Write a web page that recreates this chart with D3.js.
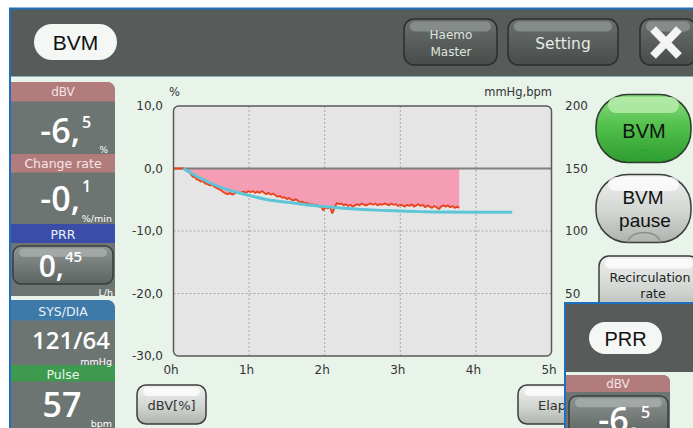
<!DOCTYPE html>
<html>
  <head>
    <title>BVM</title>
    <script src="https://cdn.jsdelivr.net/npm/d3@7"></script>
    <style>
      body { margin: 0; background: #ffffff; }
      text { font-family: "DejaVu Sans", sans-serif; }
    </style>
  </head>
  <body>
    <svg width="693" height="428" id="mainsvg"></svg>
    <script>
        // chart data
        const hourTicks = [0, 1, 2, 3, 4, 5];
        const pctTicks = [10, 0, -10, -20, -30];
        const rightTicks = [50, 100, 150, 200];

        // dBV measured [hours, %]
        const dbvPoints = [
            [0.00, 0.0], [0.13, 0.0], [0.17, -0.3], [0.20, -0.5], [0.23, -0.9], [0.26, -1.4],
            [0.28, -1.2], [0.30, -1.7], [0.33, -1.8], [0.36, -2.1], [0.39, -2.0], [0.42, -2.4],
            [0.45, -2.5], [0.48, -2.7], [0.51, -2.6], [0.54, -2.9], [0.57, -3.1], [0.60, -3.3],
            [0.63, -3.5], [0.66, -3.8], [0.69, -4.0], [0.72, -4.1], [0.75, -3.9], [0.78, -4.2],
            [0.81, -4.0], [0.84, -3.8], [0.87, -4.0], [0.90, -3.8], [0.93, -3.7], [0.96, -3.9],
            [0.99, -3.6], [1.02, -3.8], [1.05, -3.6], [1.08, -3.9], [1.11, -3.7], [1.14, -3.9],
            [1.17, -3.6], [1.20, -3.9], [1.23, -4.1], [1.26, -3.9], [1.29, -4.2], [1.32, -4.0],
            [1.35, -4.3], [1.38, -4.5], [1.41, -4.4], [1.44, -4.7], [1.47, -4.6], [1.50, -4.9],
            [1.53, -4.7], [1.56, -5.0], [1.59, -5.1], [1.62, -4.9], [1.65, -5.2], [1.68, -5.4],
            [1.71, -5.3], [1.74, -5.6], [1.77, -5.5], [1.80, -5.8], [1.83, -5.7], [1.86, -5.9],
            [1.89, -5.8], [1.92, -6.1], [1.95, -6.0], [1.98, -6.7], [2.01, -6.2], [2.04, -6.4],
            [2.07, -6.1], [2.10, -7.2], [2.13, -6.3], [2.16, -5.5], [2.19, -5.7], [2.22, -5.6],
            [2.25, -5.9], [2.28, -5.7], [2.31, -6.0], [2.34, -5.8], [2.37, -6.1], [2.40, -5.9],
            [2.43, -5.7], [2.46, -5.9], [2.49, -5.6], [2.52, -5.8], [2.55, -5.9], [2.58, -5.7],
            [2.61, -5.6], [2.64, -5.8], [2.67, -5.6], [2.70, -5.9], [2.73, -5.7], [2.76, -5.8],
            [2.79, -5.6], [2.82, -5.7], [2.85, -5.9], [2.88, -5.6], [2.91, -5.8], [2.94, -5.7],
            [2.97, -6.0], [3.00, -5.8], [3.03, -5.9], [3.06, -6.1], [3.09, -5.8], [3.12, -6.0],
            [3.15, -5.7], [3.18, -6.1], [3.21, -5.9], [3.24, -5.7], [3.27, -6.0], [3.30, -5.8],
            [3.33, -6.2], [3.36, -5.9], [3.39, -6.1], [3.42, -6.3], [3.45, -6.0], [3.48, -6.2],
            [3.51, -6.5], [3.54, -6.1], [3.57, -5.9], [3.60, -6.1], [3.63, -5.9], [3.66, -6.2],
            [3.69, -6.0], [3.72, -6.3], [3.75, -6.1], [3.78, -6.3]
        ];

        // target / fitted curve [hours, %]
        const targetPoints = [
            [0.13, 0.0], [0.20, -0.5], [0.30, -1.2], [0.40, -1.8], [0.50, -2.4], [0.60, -2.9],
            [0.75, -3.5], [0.90, -4.0], [1.00, -4.3], [1.25, -5.0], [1.50, -5.4], [1.75, -5.8],
            [2.00, -6.1], [2.25, -6.35], [2.50, -6.55], [2.75, -6.7], [3.00, -6.8], [3.25, -6.9],
            [3.50, -6.95], [4.00, -7.0], [4.48, -7.0]
        ];

        const svg = d3.select('#mainsvg');
        const defs = svg.append('defs');

        const addGrad = function(id, stops){
            const g = defs.append('linearGradient').attr('id', id)
            .attr('x1', 0).attr('x2', 0).attr('y1', 0).attr('y2', 1);
            stops.forEach(s => g.append('stop').attr('offset', s[0]).attr('stop-color', s[1]));
        };
        addGrad('gDark', [['0%', '#6b716f'], ['100%', '#474c4a']]);
        addGrad('gLight', [['0%', '#eef1ee'], ['55%', '#d2d6d2'], ['100%', '#aeb3ae']]);
        addGrad('gGreen', [['0%', '#8fdc84'], ['45%', '#52c14c'], ['100%', '#2f9c30']]);
        addGrad('gPanelBtn', [['0%', '#8e9492'], ['100%', '#5d6361']]);

        // frame: white margin, blue border, dark header, mint body
        svg.append('rect').attr('width', 693).attr('height', 428).attr('fill', '#ffffff');
        svg.append('rect').attr('x', 9).attr('y', 7.5).attr('width', 684).attr('height', 421).attr('fill', '#1f6fc0');
        svg.append('rect').attr('x', 11).attr('y', 9.5).attr('width', 682).attr('height', 67).attr('fill', '#575c5a');
        svg.append('rect').attr('x', 11).attr('y', 76.5).attr('width', 682).attr('height', 352).attr('fill', '#e8f3ea');

        // rounded rect with only top-right corner rounded
        const panelPath = function(x, y, w, h, r){
            return `M${x},${y} H${x + w - r} Q${x + w},${y} ${x + w},${y + r} V${y + h} H${x} Z`;
        };

        const button = function(x, y, w, h, rx, kind){
            const g = svg.append('g');
            const fill = kind === 'dark' ? 'url(#gDark)' : kind === 'green' ? 'url(#gGreen)'
                : kind === 'panel' ? 'url(#gPanelBtn)' : 'url(#gLight)';
            g.append('rect').attr('x', x).attr('y', y).attr('width', w).attr('height', h)
            .attr('rx', rx).attr('fill', fill)
            .attr('stroke', kind === 'dark' ? '#2b2f2d' : '#3a3e3c').attr('stroke-width', 1.5);
            const hl = kind === 'dark' ? '#8c928f' : kind === 'green' ? '#b6ecab' : kind === 'panel' ? '#a7adab' : '#ffffff';
            g.append('rect').attr('x', x + 6).attr('y', y + 2.5).attr('width', w - 12).attr('height', Math.min(10, h * 0.22))
            .attr('rx', 5).attr('fill', hl).attr('opacity', kind === 'light' ? 0.75 : 0.85);
            return g;
        };

        const label = function(x, y, t, size, color, opts){
            opts = opts || {};
            return svg.append('text').attr('x', x).attr('y', y).text(t)
            .attr('font-size', size).attr('fill', color)
            .attr('font-weight', opts.weight || 'normal')
            .attr('text-anchor', opts.anchor || 'middle')
            .attr('dominant-baseline', opts.baseline || 'central')
            .style('font-family', opts.font || '"DejaVu Sans", sans-serif');
        };
        // big white readouts
        const big = {baseline: 'alphabetic', font: '"Open Sans", sans-serif', weight: 600};
        const bigEnd = Object.assign({anchor: 'end'}, big);
        const bigStart = Object.assign({anchor: 'start'}, big);

        // ---------- header ----------
        svg.append('rect').attr('x', 34).attr('y', 24).attr('width', 83).attr('height', 36).attr('rx', 18).attr('fill', '#f4f7f4');
        label(75.5, 42.5, 'BVM', 21, '#111', {font: '"Liberation Sans", sans-serif'});

        button(404, 19, 93, 46, 10, 'dark');
        label(451, 35, 'Haemo', 12, '#dfe3df');
        label(451, 52, 'Master', 12, '#dfe3df');
        button(508, 19, 110, 46, 10, 'dark');
        label(563, 44, 'Setting', 15.5, '#e6eae6');
        button(640, 19, 56, 46, 10, 'dark');
        svg.append('path').attr('d', 'M653,29 L679,56 M679,29 L653,56')
        .attr('stroke', '#f4f4f4').attr('stroke-width', 8).attr('fill', 'none');

        // ---------- left info panels ----------
        svg.append('path').attr('d', panelPath(11, 82, 104, 214, 9)).attr('fill', '#6d7572');
        svg.append('path').attr('d', panelPath(11, 82, 104, 19.5, 9)).attr('fill', '#b37c7c');
        svg.append('rect').attr('x', 11).attr('y', 154).attr('width', 104).attr('height', 18.5).attr('fill', '#b37c7c');
        svg.append('rect').attr('x', 11).attr('y', 224).attr('width', 104).attr('height', 19).attr('fill', '#3a4ea8');
        label(63, 92, 'dBV', 12, '#f2e2e2');
        label(63, 163.5, 'Change rate', 12.5, '#f6e6e6');
        label(63, 234, 'PRR', 12.5, '#eef0ff');

        label(80, 143, '-6,', 34, '#ffffff', bigEnd);
        label(82, 128, '5', 16, '#ffffff', bigStart);
        label(108, 150, '%', 9, '#ffffff', {anchor: 'end'});

        label(80, 211, '-0,', 34, '#ffffff', bigEnd);
        label(82, 192, '1', 16, '#ffffff', bigStart);
        label(112, 218.5, '%/min', 9.5, '#ffffff', {anchor: 'end'});

        button(13, 246, 100, 38, 8, 'panel');
        label(64, 277, '0,', 30, '#ffffff', bigEnd);
        label(65, 262, '45', 15, '#ffffff', bigStart);
        label(113, 292, 'L/h', 9.5, '#ffffff', {anchor: 'end'});

        svg.append('path').attr('d', panelPath(11, 300, 104, 130, 9)).attr('fill', '#6d7572');
        svg.append('path').attr('d', panelPath(11, 300, 104, 20.5, 9)).attr('fill', '#3e7aa8');
        svg.append('rect').attr('x', 11).attr('y', 365).attr('width', 104).attr('height', 16.5).attr('fill', '#3d9a4e');
        label(63, 311, 'SYS/DIA', 12.5, '#e6f0f8');
        label(63, 374, 'Pulse', 12.5, '#e8f6ea');
        label(71, 348.5, '121/64', 24, '#ffffff', Object.assign({}, big));
        label(112, 361, 'mmHg', 9.5, '#ffffff', {anchor: 'end'});
        label(62, 417, '57', 34, '#ffffff', Object.assign({}, big));
        label(112, 423, 'bpm', 9.5, '#ffffff', {anchor: 'end'});

        // ---------- chart ----------
        const plotL = 173.5, plotR = 551.5, plotT = 106, plotB = 356;
        const xScale = d3.scaleLinear().domain([0, 5]).range([plotL, plotR]);
        const yScale = d3.scaleLinear().domain([-30, 10]).range([plotB, plotT]);
        const yRight = d3.scaleLinear().domain([0, 200]).range([plotB, plotT]);

        defs.append('clipPath').attr('id', 'plotClip').append('rect')
        .attr('x', plotL).attr('y', plotT).attr('width', plotR - plotL).attr('height', plotB - plotT).attr('rx', 5);

        svg.append('rect').attr('x', plotL).attr('y', plotT).attr('width', plotR - plotL).attr('height', plotB - plotT)
        .attr('rx', 5).attr('fill', '#e5e5e5');

        const plot = svg.append('g').attr('clip-path', 'url(#plotClip)');

        plot.selectAll('.vgrid').data(hourTicks.filter(d => d > 0 && d < 5)).enter().append('line')
        .attr('x1', d => xScale(d)).attr('x2', d => xScale(d)).attr('y1', plotT).attr('y2', plotB)
        .attr('stroke', '#a6a6a6').attr('stroke-dasharray', '2,2');
        plot.selectAll('.hgrid').data(pctTicks.filter(d => d < 0 && d > -30)).enter().append('line')
        .attr('x1', plotL).attr('x2', plotR).attr('y1', d => yScale(d)).attr('y2', d => yScale(d))
        .attr('stroke', '#a6a6a6').attr('stroke-dasharray', '2,2');

        const area = d3.area()
        .x(d => xScale(d[0])).y0(yScale(0)).y1(d => yScale(d[1]));
        plot.append('path').datum(dbvPoints).attr('d', area).attr('fill', '#f59db5');

        plot.append('line').attr('x1', plotL).attr('x2', plotR).attr('y1', yScale(0)).attr('y2', yScale(0))
        .attr('stroke', '#7f7f7f').attr('stroke-width', 2);

        const line = d3.line().x(d => xScale(d[0])).y(d => yScale(d[1]));
        plot.append('path').datum(dbvPoints).attr('d', line).attr('fill', 'none')
        .attr('stroke', '#e8451f').attr('stroke-width', 1.9).attr('stroke-linejoin', 'bevel');

        plot.append('path').datum(targetPoints).attr('d', line.curve(d3.curveMonotoneX)).attr('fill', 'none')
        .attr('stroke', '#5cc6d8').attr('stroke-width', 3);

        svg.append('rect').attr('x', plotL).attr('y', plotT).attr('width', plotR - plotL).attr('height', plotB - plotT)
        .attr('rx', 5).attr('fill', 'none').attr('stroke', '#5a5a5a').attr('stroke-width', 1.5);

        // axes
        const fmtPct = d => d.toFixed(1).replace('.', ',');
        const yAxisG = svg.append('g').attr('transform', 'translate(163,0)')
        .call(d3.axisLeft(yScale).tickValues(pctTicks).tickFormat(fmtPct).tickSize(0).tickPadding(0));
        const yRightG = svg.append('g').attr('transform', 'translate(565,0)')
        .call(d3.axisRight(yRight).tickValues(rightTicks).tickSize(0).tickPadding(0));
        const xAxisG = svg.append('g').attr('transform', 'translate(-3,365)')
        .call(d3.axisBottom(xScale).tickValues(hourTicks).tickFormat(d => d + 'h').tickSize(0).tickPadding(0));
        [yAxisG, yRightG, xAxisG].forEach(g => {
            g.select('.domain').remove();
            g.selectAll('text').attr('font-size', 12).attr('fill', '#333')
            .style('font-family', '"DejaVu Sans", sans-serif');
        });
        label(169, 92, '%', 11.5, '#333', {anchor: 'start'});
        label(552, 92, 'mmHg,bpm', 11.5, '#333', {anchor: 'end'});

        // ---------- chart buttons ----------
        button(137, 385, 69, 39, 9, 'light');
        label(171.5, 405.5, 'dBV[%]', 13, '#333');
        button(518, 385, 90, 39, 9, 'light');
        label(538, 405.5, 'Elap', 13, '#333', {anchor: 'start'});

        // ---------- right control buttons ----------
        const gb = svg.append('g');
        gb.append('rect').attr('x', 596).attr('y', 94.5).attr('width', 95).attr('height', 68).attr('rx', 32)
        .attr('fill', 'url(#gGreen)').attr('stroke', '#2c3a2c').attr('stroke-width', 1.5);
        gb.append('rect').attr('x', 608).attr('y', 97).attr('width', 71).attr('height', 16).attr('rx', 8)
        .attr('fill', '#b9eeae').attr('opacity', 0.8);
        gb.append('path').attr('d', 'M628,162 A16,12 0 0 1 660,162').attr('fill', 'none')
        .attr('stroke', '#2aa83a').attr('stroke-width', 1.5);
        label(644, 131, 'BVM', 20, '#111', {font: '"Liberation Sans", sans-serif'});

        const gp = svg.append('g');
        gp.append('rect').attr('x', 596).attr('y', 174.5).attr('width', 95).attr('height', 68).attr('rx', 32)
        .attr('fill', 'url(#gLight)').attr('stroke', '#3a3e3c').attr('stroke-width', 1.5);
        gp.append('rect').attr('x', 608).attr('y', 177).attr('width', 71).attr('height', 14).attr('rx', 7)
        .attr('fill', '#ffffff').attr('opacity', 0.7);
        gp.append('path').attr('d', 'M628,242.5 A16,10 0 0 1 660,242.5').attr('fill', 'none')
        .attr('stroke', '#8a8e8a').attr('stroke-width', 1.5);
        label(643, 197, 'BVM', 19, '#111', {font: '"Liberation Sans", sans-serif'});
        label(645, 220.5, 'pause', 19, '#111', {font: '"Liberation Sans", sans-serif'});

        button(599, 256, 100, 60, 10, 'light');
        label(650, 277, 'Recirculation', 12.5, '#222');
        label(653, 293.5, 'rate', 12.5, '#222');

        // ---------- PRR overlay window ----------
        svg.append('rect').attr('x', 564).attr('y', 302).attr('width', 129).attr('height', 126).attr('fill', '#1f6fc0');
        svg.append('rect').attr('x', 566).attr('y', 304).attr('width', 127).attr('height', 68).attr('fill', '#575c5a');
        svg.append('rect').attr('x', 566).attr('y', 372).attr('width', 127).attr('height', 56).attr('fill', '#e8f3ea');
        svg.append('rect').attr('x', 589).attr('y', 322).attr('width', 73).attr('height', 32).attr('rx', 16).attr('fill', '#f4f7f4');
        label(625.5, 338.5, 'PRR', 20, '#111', {font: '"Liberation Sans", sans-serif'});
        svg.append('path').attr('d', panelPath(566, 375, 104, 60, 8)).attr('fill', '#6d7572');
        svg.append('path').attr('d', panelPath(566, 375, 104, 17, 8)).attr('fill', '#b37c7c');
        label(618, 384, 'dBV', 12, '#f2e2e2');
        button(569, 396, 99, 40, 8, 'panel');
        label(638, 432, '-6,', 34, '#ffffff', bigEnd);
        label(641, 418, '5', 16, '#ffffff', bigStart);
    </script>
  </body>
</html>
